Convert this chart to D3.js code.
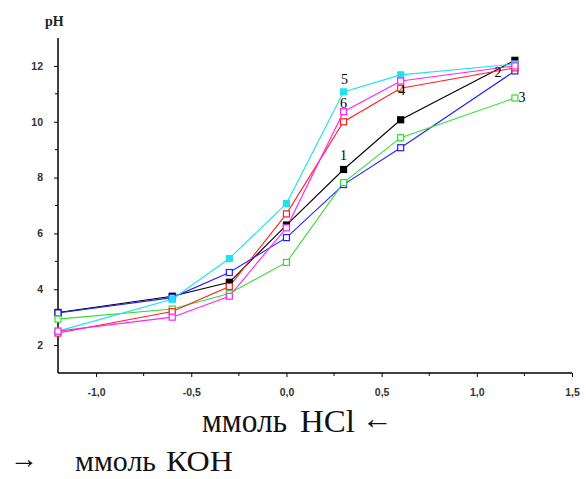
<!DOCTYPE html>
<html><head><meta charset="utf-8">
<script src="https://cdn.jsdelivr.net/npm/d3@7"></script>
<style>html,body{margin:0;padding:0;background:#fff;}svg{display:block;}</style>
</head><body><div id="chart"></div>
<script>
const xValues = [-1.2, -0.6, -0.3, 0.0, 0.3, 0.6, 1.2];
const seriesNames = ["1", "2", "3", "4", "5", "6"];
const s1 = [3.17, 3.75, 4.25, 6.30, 8.29, 10.07, 12.20];
const s2 = [3.15, 3.70, 4.60, 5.85, 7.75, 9.07, 11.82];
const s3 = [2.93, 3.29, 3.85, 4.96, 7.82, 9.43, 10.85];
const s4 = [2.43, 3.20, 4.10, 6.70, 10.00, 11.20, 11.93];
const s5 = [2.50, 3.64, 5.10, 7.07, 11.07, 11.68, 12.07];
const s6 = [2.50, 3.00, 3.75, 6.20, 10.36, 11.46, 12.00];
const seriesColors = ["#000000", "#2020ff", "#33dd33", "#ff2020", "#22e0f0", "#ff22ff"];
const seriesFilled = [true, false, false, false, true, false];
const xTickValues = [-1.0, -0.5, 0.0, 0.5, 1.0, 1.5];
const xTickLabels = ["-1,0", "-0,5", "0,0", "0,5", "1,0", "1,5"];
const yTickValues = [2, 4, 6, 8, 10, 12];
const yTickLabels = ["2", "4", "6", "8", "10", "12"];
const labelPoints = [
  {name: "5", xi: 4, s: 4}, {name: "6", xi: 4, s: 5}, {name: "4", xi: 5, s: 3},
  {name: "1", xi: 4, s: 0}, {name: "2", xi: 6, s: 1}, {name: "3", xi: 6, s: 2}
];
const allSeries = [s1, s2, s3, s4, s5, s6];

const W = 586, H = 479;
const svg = d3.select("#chart").append("svg").attr("width", W).attr("height", H);
const x = d3.scaleLinear().domain([-1.2, 1.5]).range([58, 572]);
const y = d3.scaleLinear().domain([1, 13]).range([373, 38]);

const tickFont = "Liberation Sans, Arial, sans-serif";
// axes
const xAxis = d3.axisBottom(x).tickValues(xTickValues).tickSize(4).tickFormat((d,i)=>xTickLabels[i]);
const gx = svg.append("g").attr("transform", "translate(0,373)").call(xAxis);
gx.select(".domain").attr("d", `M${x(-1.2)},0H${x(1.5)}`).attr("stroke-width", 1.5);
gx.selectAll(".tick text").attr("y", 23).attr("dy", 0).style("font-family", tickFont).style("font-size", "10.5px").style("font-weight", "bold").attr("fill", "#333");
const xMinor = [-0.75, -0.25, 0.25, 0.75, 1.25];
svg.append("g").selectAll("line").data(xMinor).join("line")
  .attr("x1", d=>x(d)).attr("x2", d=>x(d)).attr("y1", 373).attr("y2", 376).attr("stroke", "#000");

const yAxis = d3.axisLeft(y).tickValues(yTickValues).tickSize(4).tickFormat((d,i)=>yTickLabels[i]);
const gy = svg.append("g").attr("transform", "translate(58,0)").call(yAxis);
gy.select(".domain").attr("d", `M0,${y(13)}V${y(1)}`).attr("stroke-width", 1.5);
gy.selectAll(".tick text").attr("x", -15).style("font-family", tickFont).style("font-size", "10.5px").style("font-weight", "bold").attr("fill", "#333");
const yMinor = [3, 5, 7, 9, 11];
svg.append("g").selectAll("line").data(yMinor).join("line")
  .attr("x1", 58).attr("x2", 55).attr("y1", d=>y(d)).attr("y2", d=>y(d)).attr("stroke", "#000");

svg.append("text").attr("x", 45).attr("y", 26).text("pH")
  .style("font-family", "Liberation Serif, serif").style("font-size", "14px").style("font-weight", "bold").attr("fill", "#222");

// lines
const line = d3.line().x((d,i)=>x(xValues[i])).y(d=>y(d));
allSeries.forEach((s, k) => {
  svg.append("path").attr("d", line(s)).attr("fill", "none")
    .attr("stroke", seriesColors[k]).attr("stroke-width", 1.1);
});
allSeries.forEach((s, k) => {
  svg.append("g").selectAll("rect").data(s).join("rect")
    .attr("x", (d,i)=>x(xValues[i]) - 3).attr("y", d=>y(d) - 3)
    .attr("width", 6).attr("height", 6)
    .attr("fill", seriesFilled[k] ? seriesColors[k] : "#fff")
    .attr("stroke", seriesColors[k]).attr("stroke-width", 1.2);
});

// series number labels
const labelOffsets = {"5": [1, -8], "6": [0, -4], "4": [1, 7], "1": [0, -9], "2": [-17, 6], "3": [7, 4]};
svg.append("g").selectAll("text").data(labelPoints).join("text")
  .attr("x", d=>x(xValues[d.xi]) + labelOffsets[d.name][0])
  .attr("y", d=>y(allSeries[d.s][d.xi]) + labelOffsets[d.name][1])
  .attr("text-anchor", "middle")
  .style("font-family", "Liberation Serif, serif").style("font-size", "14px")
  .text(d=>d.name);

// titles
const serif = "Liberation Serif, 'Times New Roman', serif";
function piece(xp, yp, size, len, txt) {
  svg.append("text").attr("x", xp).attr("y", yp)
    .attr("textLength", len).attr("lengthAdjust", "spacingAndGlyphs")
    .style("font-family", serif).style("font-size", size + "px").attr("fill", "#111").text(txt);
}
piece(202, 432, 33, 85, "ммоль");
piece(300, 432, 32, 55, "HCl");
piece(362, 429, 31, 31, "←");
piece(10, 468, 29, 28, "→");
piece(75, 471, 30, 81, "ммоль");
piece(166, 471, 30, 67, "КОН");
</script></body></html>
